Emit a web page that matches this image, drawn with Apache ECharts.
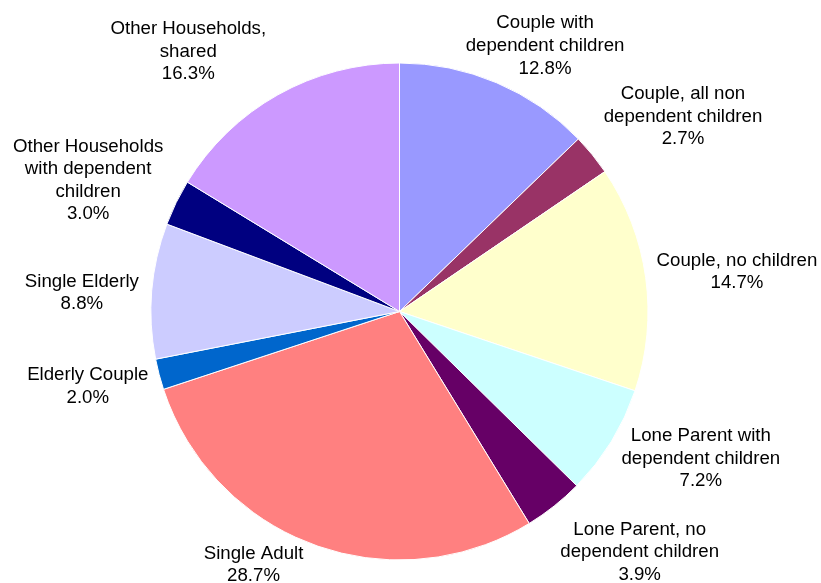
<!DOCTYPE html>
<html>
<head>
<meta charset="utf-8">
<script src="https://cdn.jsdelivr.net/npm/echarts@6/dist/echarts.min.js"></script>
<style>
html,body{margin:0;padding:0;background:#fff;}
#chart{width:821px;height:583px;}
</style>
</head>
<body>
<div id="chart"></div>
<script>
// ---- data ----
const categories = [
  'Couple with\ndependent children',
  'Couple, all non\ndependent children',
  'Couple, no children',
  'Lone Parent with\ndependent children',
  'Lone Parent, no\ndependent children',
  'Single Adult',
  'Elderly Couple',
  'Single Elderly',
  'Other Households\nwith dependent\nchildren',
  'Other Households,\nshared'
];
const values = [12.8, 2.7, 14.7, 7.2, 3.9, 28.7, 2.0, 8.8, 3.0, 16.3];
const colors = ['#9999FF', '#993366', '#FFFFCC', '#CCFFFF', '#660066',
                '#FF8080', '#0066CC', '#CCCCFF', '#000080', '#CC99FF'];

// ---- layout ----
const CX = 399.5, CY = 311.5, R = 248.5, GAP = 12;
// small per-label nudges (label placement tweaks)
const labelNudge = [[10, 8], [2, -3], [-1, -1], [0, -10], [15, 3],
                    [-38, -14], [1, 3], [-1, 5], [-2, 5], [-40, 1]];

const total = values.reduce((a, b) => a + b, 0);
const midAngles = [];
(function () {
  let acc = 0;
  values.forEach(v => { midAngles.push((acc + v / 2) / total * 2 * Math.PI); acc += v; });
})();

const chart = echarts.init(document.getElementById('chart'), null, {renderer: 'canvas'});
chart.setOption({
  backgroundColor: '#ffffff',
  animation: false,
  series: [{
    type: 'pie',
    center: [CX, CY],
    radius: R,
    startAngle: 90,
    clockwise: true,
    avoidLabelOverlap: false,
    data: categories.map((c, i) => ({name: c, value: values[i], itemStyle: {color: colors[i]}})),
    itemStyle: {borderColor: '#ffffff', borderWidth: 1},
    label: {
      show: true,
      position: 'outside',
      color: '#000',
      fontFamily: 'Liberation Sans, Arial, sans-serif',
      fontSize: 18.67,
      lineHeight: 22.6,
      formatter: p => p.name + '\n' + p.value.toFixed(1) + '%'
    },
    labelLine: {show: false},
    emphasis: {disabled: true},
    labelLayout: function (params) {
      const i = params.dataIndex;
      const a = midAngles[i];
      const ux = Math.sin(a), uy = -Math.cos(a);
      const m = Math.max(Math.abs(ux), Math.abs(uy));
      const w = params.labelRect.width, h = params.labelRect.height;
      const x = CX + (R + GAP) * ux + (w / 2) * (ux / m) + labelNudge[i][0];
      const y = CY + (R + GAP) * uy + (h / 2) * (uy / m) + labelNudge[i][1];
      return {x: x, y: y, align: 'center', verticalAlign: 'middle'};
    }
  }]
});
</script>
</body>
</html>
